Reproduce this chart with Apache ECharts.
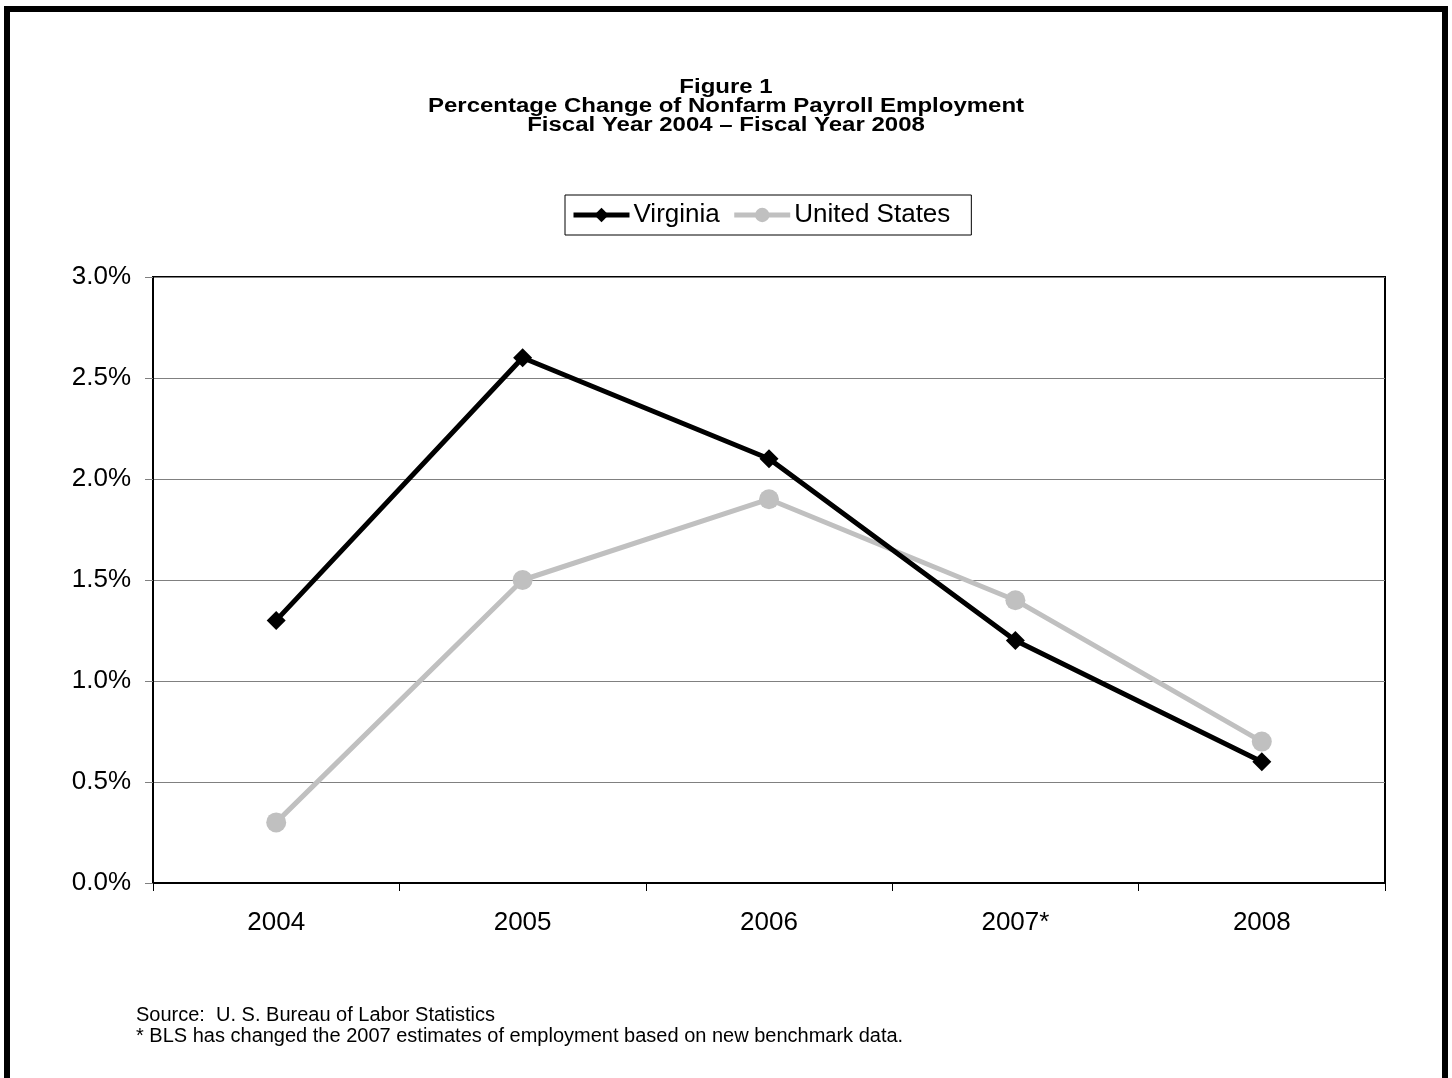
<!DOCTYPE html>
<html>
<head>
<meta charset="utf-8">
<script src="https://cdn.jsdelivr.net/npm/echarts@6/dist/echarts.min.js"></script>
<style>
  html, body { margin: 0; padding: 0; background: #fff; }
  #chart { width: 1452px; height: 1078px; }
  #frame {
    position: absolute; left: 4px; top: 6px; width: 1432px; height: 1100px;
    border: 6px solid #000; pointer-events: none;
  }
</style>
</head>
<body>
<div id="chart"></div>
<div id="frame"></div>
<script>
// datos de la figura
const years = ["2004", "2005", "2006", "2007*", "2008"];
const virginia = [1.3, 2.6, 2.1, 1.2, 0.6];
const unitedStates = [0.3, 1.5, 1.9, 1.4, 0.7];

const chart = echarts.init(document.getElementById("chart"));
const FONT = "Arial, 'Liberation Sans', sans-serif";

const option = {
  animation: false,
  backgroundColor: "#fff",
  legend: {
    data: ["Virginia", "United States"],
    left: 565,
    top: 195,
    padding: [7, 21, 7, 6],
    itemWidth: 56,
    itemHeight: 18,
    itemGap: 12,
    borderColor: "#000",
    borderWidth: 1,
    lineStyle: { width: 5 },
    textStyle: { fontFamily: FONT, fontSize: 26, color: "#000", padding: [0, 0, 0, -1] },
  },
  grid: {
    left: 153,
    right: 67,
    top: 277,
    bottom: 195,
    show: true,
    borderColor: "#000",
    borderWidth: 2,
  },
  xAxis: {
    type: "category",
    data: years,
    boundaryGap: true,
    axisLine: { lineStyle: { color: "#000", width: 2 } },
    axisTick: { show: true, length: 8, interval: 0, lineStyle: { color: "#000", width: 1 } },
    axisLabel: { fontFamily: FONT, fontSize: 26, color: "#000", margin: 27 },
  },
  yAxis: {
    type: "value",
    min: 0,
    max: 3,
    interval: 0.5,
    axisLine: { show: true, lineStyle: { color: "#000", width: 2 } },
    axisTick: { show: true, length: 8, lineStyle: { color: "#808080", width: 1 } },
    splitLine: { lineStyle: { color: "#808080", width: 1 } },
    axisLabel: {
      fontFamily: FONT, fontSize: 26, color: "#000", margin: 22,
      formatter: (v) => v.toFixed(1) + "%",
    },
  },
  series: [
    {
      name: "United States",
      type: "line",
      data: unitedStates,
      z: 2,
      symbol: "circle",
      symbolSize: 20,
      lineStyle: { color: "#C0C0C0", width: 5 },
      itemStyle: { color: "#C0C0C0" },
    },
    {
      name: "Virginia",
      type: "line",
      data: virginia,
      z: 3,
      symbol: "diamond",
      symbolSize: [19, 19],
      lineStyle: { color: "#000", width: 5 },
      itemStyle: { color: "#000" },
    },
  ],
  graphic: [
    {
      // título (un poco ensanchado como en el original)
      type: "text",
      x: 726,
      y: 78,
      scaleX: 1.2,
      style: {
        text: "Figure 1\nPercentage Change of Nonfarm Payroll Employment\nFiscal Year 2004 \u2013 Fiscal Year 2008",
        x: 0, y: 0,
        textAlign: "center",
        fontFamily: FONT, fontSize: 20, fontWeight: "bold", lineHeight: 19, fill: "#000",
      },
    },
    {
      type: "text",
      left: 136,
      top: 1005,
      style: {
        text: "Source:  U. S. Bureau of Labor Statistics\n* BLS has changed the 2007 estimates of employment based on new benchmark data.",
        fontFamily: FONT, fontSize: 20, lineHeight: 21, fill: "#000",
      },
    },
  ],
};

chart.setOption(option);
</script>
</body>
</html>
